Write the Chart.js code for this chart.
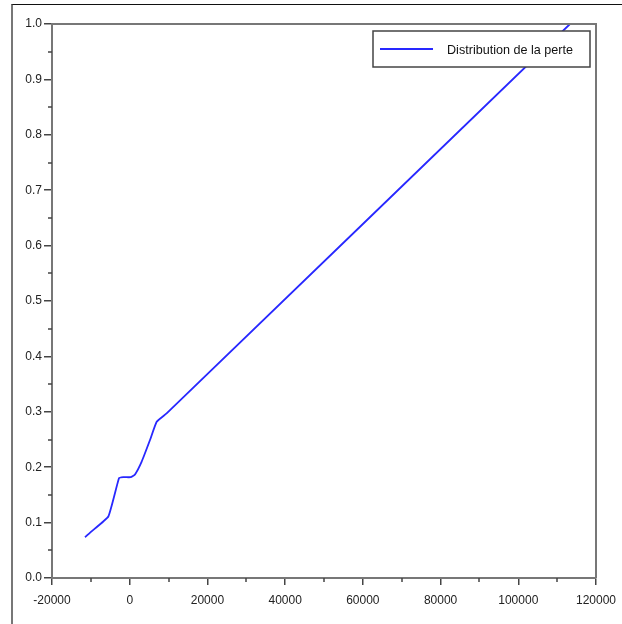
<!DOCTYPE html>
<html>
<head>
<meta charset="utf-8">
<script src="https://cdn.jsdelivr.net/npm/chart.js@4.4.1/dist/chart.umd.min.js"></script>
<style>
  body { margin: 0; background: #fff; }
  #wrap { position: relative; width: 622px; height: 624px; }
  #frame {
    position: absolute; left: 11px; top: 4px; right: 0; bottom: 0;
    border-top: 1px solid #111; border-left: 2px solid #777;
  }
  canvas { position: absolute; left: 0; top: 0; }
</style>
</head>
<body>
<div id="wrap">
  <div id="frame"></div>
  <canvas id="lossChart" width="622" height="624"></canvas>
</div>
<script>
const seriesLabel = "Distribution de la perte";
const lossValues = [-11500, -10200, -5500, -2760, -1650, 250, 1360, 3080, 5220, 6940, 9500, 113300];
const probValues = [0.0735, 0.082, 0.111, 0.180, 0.182, 0.182, 0.187, 0.210, 0.249, 0.282, 0.297, 1.0];

const axisColor = "#777";
const tickFont = { family: "Liberation Sans, Arial, sans-serif", size: 12 };

// minor ticks, plot frame and the boxed legend
const decorations = {
  id: "decorations",
  afterDraw(chart) {
    const { ctx, chartArea: a, scales } = chart;
    ctx.save();
    ctx.strokeStyle = axisColor;
    ctx.lineWidth = 2;
    ctx.beginPath();
    ctx.moveTo(a.left, a.top);
    ctx.lineTo(a.right, a.top);
    ctx.lineTo(a.right, a.bottom);
    ctx.stroke();

    ctx.strokeStyle = "#444";
    ctx.lineWidth = 1.5;
    ctx.beginPath();
    for (let v = 0.05; v < 1; v += 0.1) {
      const y = Math.round(scales.y.getPixelForValue(v));
      ctx.moveTo(a.left - 4, y);
      ctx.lineTo(a.left, y);
    }
    for (let v = -10000; v < 120000; v += 20000) {
      const x = Math.round(scales.x.getPixelForValue(v));
      ctx.moveTo(x, a.bottom);
      ctx.lineTo(x, a.bottom + 4);
    }
    ctx.stroke();

    // legend
    const w = 217, h = 36;
    const lx = a.right - 6 - w, ly = a.top + 7;
    ctx.fillStyle = "#fff";
    ctx.fillRect(lx, ly, w, h);
    ctx.strokeStyle = "#444";
    ctx.lineWidth = 1.5;
    ctx.strokeRect(lx, ly, w, h);
    const ds = chart.data.datasets[0];
    ctx.strokeStyle = ds.borderColor;
    ctx.lineWidth = 2;
    ctx.beginPath();
    ctx.moveTo(lx + 7, ly + h / 2);
    ctx.lineTo(lx + 60, ly + h / 2);
    ctx.stroke();
    ctx.fillStyle = "#111";
    ctx.font = "13px 'Liberation Sans Narrow', 'Arial Narrow', sans-serif";
    ctx.textBaseline = "middle";
    const tw = ctx.measureText(ds.label).width;
    const target = 126;
    ctx.translate(lx + 74, ly + h / 2 + 1);
    ctx.scale(target / tw, 1);
    ctx.fillText(ds.label, 0, 0);
    ctx.restore();
  }
};

new Chart(document.getElementById("lossChart"), {
  type: "scatter",
  data: {
    datasets: [
      {
        label: seriesLabel,
        data: lossValues.map((x, i) => ({ x: x, y: probValues[i] })),
        showLine: true,
        borderColor: "rgb(40, 40, 255)",
        borderWidth: 1.8,
        pointRadius: 0,
        tension: 0.12,
        fill: false
      }
    ]
  },
  options: {
    responsive: false,
    animation: false,
    layout: { padding: { top: 24, right: 26, left: 0, bottom: 0 } },
    plugins: { legend: { display: false }, tooltip: { enabled: false } },
    scales: {
      x: {
        type: "linear",
        min: -20000,
        max: 120000,
        afterFit: (scale) => {
          scale.height = 46;
          scale.paddingLeft = 0;
          scale.paddingRight = 0;
        },
        ticks: {
          stepSize: 20000,
          color: "#222",
          font: tickFont,
          padding: 8,
          maxRotation: 0,
          callback: (value) => String(value)
        },
        grid: { drawOnChartArea: false, tickLength: 7, color: "#444", lineWidth: 1.5 },
        border: { color: axisColor, width: 2 }
      },
      y: {
        min: 0,
        max: 1,
        afterFit: (scale) => {
          scale.width = 52;
          scale.paddingTop = 0;
          scale.paddingBottom = 0;
        },
        ticks: {
          stepSize: 0.1,
          color: "#222",
          font: tickFont,
          padding: 2,
          callback: (value) => value.toFixed(1)
        },
        grid: { drawOnChartArea: false, tickLength: 8, color: "#444", lineWidth: 1.5 },
        border: { color: axisColor, width: 2 }
      }
    }
  },
  plugins: [decorations]
});
</script>
</body>
</html>
